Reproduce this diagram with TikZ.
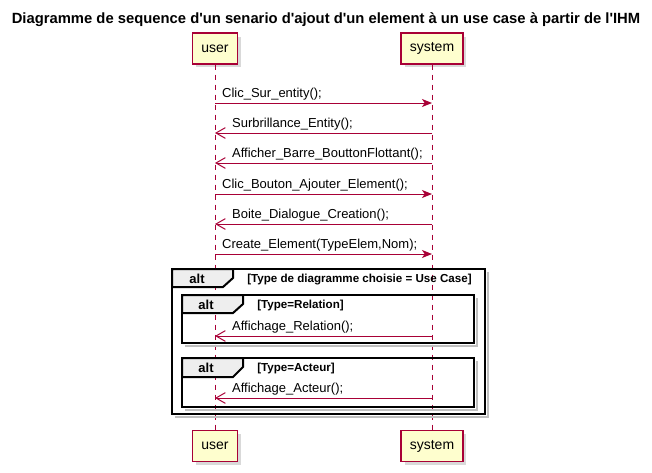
\documentclass[tikz,border=0pt]{standalone}
\usepackage{fontspec}
\setmainfont{Liberation Sans}[Ligatures=TeXOff]
\usepackage{xcolor}
\usetikzlibrary{arrows.meta,shadows}
\definecolor{umlred}{HTML}{A80036}
\definecolor{umlbox}{HTML}{FEFECE}
\definecolor{tabgrey}{HTML}{EEEEEE}

\tikzset{
  actor/.style={rectangle, draw=umlred, fill=umlbox, line width=1.1pt, minimum height=23pt, inner xsep=6.5pt,
    font=\fontsize{10.5}{12}\selectfont, drop shadow={shadow xshift=2.5pt, shadow yshift=-2.5pt, opacity=0.3}},
  lifeline/.style={umlred, line width=0.75pt, dash pattern=on 3.75pt off 3.75pt},
  call/.style={umlred, line width=0.75pt, -{Stealth[length=7.5pt,width=6pt,inset=2pt]}},
  reply/.style={umlred, line width=0.75pt, -{Straight Barb[length=7pt,width=8pt]}},
  msg/.style={anchor=south west, inner sep=0pt, text=black, yshift=2pt, font=\fontsize{9.75}{11}\selectfont},
  frame/.style={draw=black, line width=1.5pt},
  frameshadow/.style={draw=black!25, line width=1.5pt},
  tab/.style={draw=black, fill=tabgrey, line width=1.5pt},
  guard/.style={anchor=west, inner sep=0pt, font=\bfseries\fontsize{8.7}{10}\selectfont},
  altname/.style={inner sep=0pt, font=\bfseries\fontsize{9.75}{11}\selectfont}
}

\begin{document}
\begin{tikzpicture}[x=0.75pt, y=-0.75pt]
\useasboundingbox (0,0) rectangle (652,472);
% title
\node[inner sep=0pt, font=\bfseries\fontsize{11.1}{13}\selectfont] (title) at (326,20)
  {Diagramme de sequence d'un senario d'ajout d'un element à un use case à partir de l'IHM};
% participants
\node[actor] (userTop) at (215,48.5) {user};
\node[actor] (systemTop) at (432,48.5) {system};
\node[actor] (userBot) at (215,446) {user};
\node[actor] (systemBot) at (432,446) {system};
% lifelines
\draw[lifeline] (userTop) -- (userBot);
\draw[lifeline] (systemTop) -- (systemBot);
% message ends
\foreach \n/\y in {1/103,2/133,3/163,4/194,5/224,6/254,7/336,8/398}{
  \coordinate (u\n) at (215,\y);
  \coordinate (s\n) at (432,\y);
}
% alt frames
\draw[frameshadow] (175,417) -| (488,272);
\draw[frame] (172,269) rectangle (485,414);
\draw[tab] (172,269) -- (233,269) -- (233,278) -- (223,287) -- (172,287) -- cycle;
\node[altname] (alt1) at (197,278.5) {alt};
\node[guard] (guard1) at (247,279.5) {[Type de diagramme choisie = Use Case]};

\draw[frameshadow] (185,346) -| (477,298);
\draw[frame] (182,295) rectangle (474,343);
\draw[tab] (182,295) -- (243,295) -- (243,304) -- (233,313) -- (182,313) -- cycle;
\node[altname] (alt2) at (206,304.5) {alt};
\node[guard] (guard2) at (257,305) {[Type=Relation]};

\draw[frameshadow] (185,410) -| (477,361);
\draw[frame] (182,358) rectangle (474,407);
\draw[tab] (182,358) -- (243,358) -- (243,367) -- (233,377) -- (182,377) -- cycle;
\node[altname] (alt3) at (206,367.5) {alt};
\node[guard] (guard3) at (257,368) {[Type=Acteur]};
% messages
\draw[call] (u1) -- (s1) node[msg, pos=0, xshift=5pt] {Clic\_Sur\_entity();};
\draw[reply] (s2) -- (u2) node[msg, pos=1, xshift=12.5pt] {Surbrillance\_Entity();};
\draw[reply] (s3) -- (u3) node[msg, pos=1, xshift=12.5pt] {Afficher\_Barre\_BouttonFlottant();};
\draw[call] (u4) -- (s4) node[msg, pos=0, xshift=5pt] {Clic\_Bouton\_Ajouter\_Element();};
\draw[reply] (s5) -- (u5) node[msg, pos=1, xshift=12.5pt] {Boite\_Dialogue\_Creation();};
\draw[call] (u6) -- (s6) node[msg, pos=0, xshift=5pt] {Create\_Element(TypeElem,Nom);};
\draw[reply] (s7) -- (u7) node[msg, pos=1, xshift=12.5pt] {Affichage\_Relation();};
\draw[reply] (s8) -- (u8) node[msg, pos=1, xshift=12.5pt] {Affichage\_Acteur();};
\end{tikzpicture}
\end{document}
